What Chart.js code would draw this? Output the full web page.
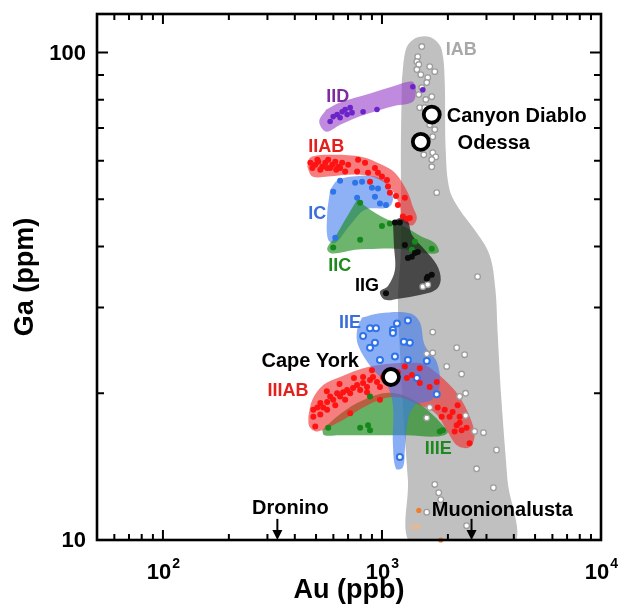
<!DOCTYPE html>
<html>
<head>
<meta charset="utf-8">
<title>Ga vs Au in iron meteorites</title>
<script src="https://cdn.jsdelivr.net/npm/chart.js@4.4.1/dist/chart.umd.min.js"></script>
<style>
  html, body { margin: 0; padding: 0; background: #fff; }
  #wrap { width: 622px; height: 608px; }
</style>
</head>
<body>
<div id="wrap"><canvas id="gaChart" width="622" height="608"></canvas></div>
<script>
// axis limits and ticks (Au in ppb, Ga in ppm)
const auRange = [50, 10000];
const gaRange = [10, 120];
const auTickValues = [100, 1000, 10000];
const auTickLabels = [['10', '2'], ['10', '3'], ['10', '4']];
const gaTickValues = [10, 100];
const gaTickLabels = ['10', '100'];

// group fields, outlines as [Au, Ga]
const fieldIAB = [[1233, 88.0], [1220, 63.2], [1220, 39.4], [1183, 31.1], [1207, 24.6], [1259, 17.6], [1313, 13.3], [1384, 9.76],
  [3937, 9.76], [3740, 13.3], [3510, 19.4], [3368, 27.0], [3297, 32.6], [3097, 38.5], [2648, 43.3], [2263, 47.6], [2036, 52.3],
  [1954, 63.2], [1933, 88.0], [1874, 101.4], [1742, 106.3], [1568, 108.0], [1384, 106.3], [1284, 101.4], [1233, 88.0]];
const fieldIID = [[557, 76.4], [644, 79.0], [882, 82.4], [1146, 85.5], [1369, 87.2], [1428, 83.9], [1383, 79.3], [1146, 77.8],
  [837, 74.6], [644, 71.1], [557, 68.8], [517, 72.2], [557, 76.4]];
const fieldIIAB = [[456, 58.3], [471, 60.9], [568, 61.7], [811, 61.1], [1000, 58.9], [1146, 56.7], [1313, 51.6], [1383, 48.3],
  [1443, 45.8], [1369, 44.2], [1233, 45.4], [1207, 48.3], [1110, 52.3], [929, 55.4], [754, 56.2], [568, 55.7], [481, 55.7], [456, 58.3]];
const fieldIC = [[580, 52.3], [631, 54.8], [811, 55.9], [959, 55.4], [1087, 53.1], [1122, 49.9], [1065, 48.1], [837, 47.6],
  [716, 44.3], [612, 40.7], [568, 41.3], [562, 46.5], [580, 52.3]];
const fieldIIC = [[770, 49.9], [929, 46.9], [1110, 45.0], [1272, 43.9], [1520, 41.9], [1742, 40.7], [1816, 39.0], [1618, 38.7],
  [1313, 39.4], [1146, 39.6], [959, 39.6], [754, 39.4], [593, 38.7], [562, 39.6], [612, 41.9], [679, 45.4], [770, 49.9]];
const fieldIIG = [[1122, 45.0], [1207, 45.8], [1313, 45.0], [1369, 42.3], [1568, 39.4], [1778, 36.7], [1855, 34.2], [1760, 32.6],
  [1488, 31.8], [1207, 31.3], [1032, 31.1], [979, 32.3], [1065, 33.2], [1146, 35.8], [1134, 40.3], [1122, 45.0]];
const fieldIIE = [[811, 28.6], [979, 29.2], [1340, 29.2], [1488, 28.0], [1568, 25.1], [1778, 23.2], [1834, 20.8], [1688, 19.4],
  [1413, 18.9], [1313, 17.6], [1272, 15.3], [1246, 14.1], [1159, 14.0], [1122, 15.7], [1122, 18.9], [1054, 20.8], [900, 22.5],
  [778, 25.1], [770, 27.0], [811, 28.6]];
const fieldIIIAB = [[461, 17.9], [481, 19.4], [539, 20.8], [644, 21.6], [770, 22.3], [929, 22.8], [1087, 23.0], [1340, 23.1],
  [1536, 23.0], [1778, 22.0], [2102, 20.5], [2335, 19.2], [2565, 17.5], [2647, 16.3], [2512, 15.5], [2215, 15.6], [1975, 16.8],
  [1778, 18.1], [1536, 18.8], [1207, 19.6], [1010, 19.5], [820, 18.7], [644, 17.5], [507, 16.7], [466, 17.1], [461, 17.9]];
const fieldIIIE = [[534, 16.8], [612, 17.8], [770, 19.1], [1010, 20.0], [1207, 19.9], [1443, 19.2], [1652, 18.3], [1894, 17.2],
  [1995, 16.6], [1778, 16.3], [1299, 16.4], [910, 16.4], [644, 16.4], [545, 16.4], [534, 16.8]];

// individual meteorites, [Au, Ga]
const pointsIAB = [[1520, 102.9], [1457, 98.1], [1443, 95.8], [1473, 94.5], [1443, 92.3], [1504, 90.1], [1618, 88.8], [1742, 91.4],
  [1652, 93.6], [1601, 86.8], [1520, 84.7], [1473, 82.0], [1585, 80.1], [1688, 81.2], [1488, 77.1], [1568, 77.1], [1652, 71.1],
  [1742, 69.5], [1705, 67.2], [1601, 65.6], [1552, 61.7], [1705, 62.3], [1760, 61.1], [1688, 60.3], [1688, 58.3], [1778, 51.6],
  [2732, 34.7], [1536, 33.1], [1618, 33.4], [1705, 26.7], [1601, 24.1], [1705, 24.2], [2193, 24.8], [2384, 24.0], [1975, 22.7],
  [2310, 21.9], [2409, 20.0], [2263, 19.7], [1652, 18.7], [1601, 17.8], [2409, 18.0], [2647, 16.7], [2908, 16.6], [3333, 15.3],
  [2703, 14.0], [3228, 12.8], [1742, 13.0], [1816, 12.5], [1855, 12.1], [1601, 11.4], [2434, 10.7]];
const pointsIID = [[580, 72.2], [599, 73.9], [624, 74.6], [658, 75.6], [679, 76.4], [693, 74.6], [644, 73.5], [730, 75.3],
  [716, 77.1], [820, 75.6], [949, 76.4], [1383, 85.1], [1536, 83.9]];
const pointsIIAB = [[496, 58.9], [512, 59.7], [534, 58.3], [551, 59.4], [568, 60.3], [593, 58.9], [612, 59.7], [631, 58.3],
  [658, 59.4], [679, 57.0], [701, 58.9], [778, 60.3], [837, 59.4], [770, 57.0], [864, 56.7], [929, 58.0], [959, 56.7],
  [882, 54.3], [1000, 55.7], [1054, 54.8], [1065, 53.1], [1087, 51.6], [1272, 50.4], [1246, 46.1], [1299, 45.6], [1340, 45.8],
  [481, 58.0], [523, 57.5], [580, 58.0], [471, 59.4], [507, 60.3], [562, 58.0], [644, 58.0], [618, 57.5], [1159, 50.8], [1182, 48.7]];
const pointsIC = [[644, 54.6], [599, 51.8], [754, 54.1], [811, 54.3], [900, 52.8], [959, 52.6], [929, 50.6], [770, 50.4],
  [979, 49.0], [1043, 48.7], [612, 41.7]];
const pointsIIC = [[795, 49.2], [795, 41.3], [1000, 44.1], [1087, 44.6], [1369, 39.4], [1688, 39.6], [599, 39.8], [1413, 40.9]];
const pointsIIG = [[1146, 44.8], [1207, 44.8], [1272, 40.3], [1369, 38.1], [1313, 37.9], [1413, 38.8], [1457, 39.0],
  [1618, 34.7], [1688, 35.0], [1601, 34.4], [1043, 32.1]];
const pointsIIE = [[882, 27.2], [939, 27.2], [1171, 27.8], [1313, 28.2], [1122, 27.0], [1122, 26.6], [820, 26.2], [929, 25.4],
  [882, 24.8], [1259, 25.5], [1340, 25.4], [979, 23.4], [1146, 23.8], [1313, 23.4], [1601, 23.3], [1443, 21.5], [1778, 19.9],
  [1207, 14.8]];
const pointsIIIAB = [[486, 18.5], [507, 18.7], [523, 19.1], [539, 18.7], [562, 19.2], [580, 19.7], [599, 19.4], [624, 20.0],
  [644, 19.7], [665, 20.1], [693, 20.3], [716, 20.0], [738, 20.5], [770, 20.8], [795, 20.3], [820, 21.0], [855, 20.6],
  [882, 21.3], [910, 21.6], [949, 21.1], [979, 20.6], [1010, 21.6], [900, 22.3], [820, 21.6], [496, 17.1], [486, 17.9],
  [562, 18.5], [716, 18.2], [855, 20.1], [979, 19.4], [679, 19.4], [612, 18.9], [523, 18.1], [1272, 22.7], [1488, 22.5],
  [1299, 21.5], [1488, 21.0], [1652, 20.6], [1778, 21.1], [1797, 18.7], [1934, 18.5], [2215, 18.9], [2036, 17.9], [2263, 17.9],
  [2193, 17.2], [2310, 16.8], [2147, 16.7], [2434, 17.0], [2512, 15.8], [2263, 17.4], [2102, 18.3], [1874, 17.9], [1182, 22.1],
  [1369, 21.8], [560, 20.2], [640, 20.9], [745, 21.5]];
const pointsIIIE = [[568, 17.0], [795, 17.0], [864, 17.2], [882, 16.8], [882, 19.7], [1834, 16.7], [1894, 16.8]];
const pointsIIF = [[1473, 11.5], [1855, 10.0]];

// named meteorites
const namedMeteorites = ['Canyon Diablo', 'Odessa', 'Cape York'];
const namedAu = [1688, 1504, 1099];
const namedGa = [74.6, 65.6, 21.6];
// meteorites below the Ga axis, marked with arrows
const belowNames = ['Dronino', 'Muonionalusta'];
const belowAu = [333, 2564];

const FONT = '"Liberation Sans", Arial, Helvetica, sans-serif';
const toXY = arr => arr.map(([x, y]) => ({ x, y }));

function field(data, color) {
  return {
    data: toXY(data), showLine: true, fill: 'shape', backgroundColor: color,
    borderWidth: 0, pointRadius: 0, tension: 0.35
  };
}
function dots(data, fillColor, edgeColor, radius, edge) {
  return {
    data: toXY(data), showLine: false, clip: false, pointRadius: radius,
    backgroundColor: fillColor, borderColor: edgeColor, borderWidth: edge
  };
}

const datasets = [
  field(fieldIAB, '#c0c0c0'),
  field(fieldIID, 'rgba(150, 60, 200, 0.6)'),
  field(fieldIC, 'rgba(60, 120, 240, 0.58)'),
  field(fieldIIC, 'rgba(30, 140, 30, 0.65)'),
  field(fieldIIAB, 'rgba(240, 40, 40, 0.6)'),
  field(fieldIIG, 'rgba(25, 25, 25, 0.72)'),
  field(fieldIIIE, 'rgba(30, 140, 30, 0.68)'),
  field(fieldIIIAB, 'rgba(240, 40, 40, 0.6)'),
  field(fieldIIE, 'rgba(60, 120, 240, 0.6)'),
  dots(pointsIAB, '#ffffff', '#9c9c9c', 2.8, 1.3),
  dots(pointsIID, '#6a24c8', '#6a24c8', 2.8, 0),
  dots(pointsIIAB, '#ff1212', '#ff1212', 3, 0),
  dots(pointsIC, '#2f73e8', '#2f73e8', 3, 0),
  dots(pointsIIC, '#16871a', '#16871a', 3, 0),
  dots(pointsIIG, '#0a0a0a', '#0a0a0a', 3, 0),
  dots(pointsIIE, '#ffffff', '#2f73e8', 3, 2),
  dots(pointsIIIAB, '#ff1212', '#ff1212', 3, 0),
  dots(pointsIIIE, '#16871a', '#16871a', 3, 0),
  dots(pointsIIF, '#f07d2a', '#f07d2a', 2.6, 0),
  {
    data: namedAu.map((x, i) => ({ x, y: namedGa[i] })), showLine: false, clip: false,
    pointRadius: 8, backgroundColor: '#ffffff', borderColor: '#000000', borderWidth: 3.8
  }
];
// paint in array order (later datasets on top)
datasets.forEach((d, i) => { d.order = -i; });

// where group and meteorite names are written, [Au, Ga]
const groupTags = [
  { text: 'IAB', at: [1954, 101.4], color: '#a8a8a8' },
  { text: 'IID', at: [557, 80.9], color: '#7d2ca0' },
  { text: 'IIAB', at: [461, 64.1], color: '#e3201c' },
  { text: 'IC', at: [461, 46.7], color: '#3a6fdc' },
  { text: 'IIC', at: [568, 36.5], color: '#1e8a1e' },
  { text: 'IIG', at: [754, 33.2], color: '#000000' },
  { text: 'IIE', at: [637, 27.9], color: '#3a6fdc' },
  { text: 'IIIAB', at: [300, 20.2], color: '#e3201c' },
  { text: 'IIIE', at: [1568, 15.4], color: '#1e8a1e' }
];
const nameTags = [
  { at: [1975, 73.9], align: 'left' },
  { at: [2215, 65.0], align: 'left' },
  { at: [282, 23.2], align: 'left' }
];
const belowTags = [
  { at: [382, 11.6], align: 'center' },
  { at: [1688, 11.5], align: 'left' }
];
const arrowTopGa = 11.05;

const annotate = {
  id: 'annotate',
  afterDatasetsDraw(chart) {
    const { ctx, chartArea: a, scales: { x, y } } = chart;
    ctx.save();
    ctx.textBaseline = 'middle';
    ctx.textAlign = 'left';
    ctx.font = `bold 18px ${FONT}`;
    groupTags.forEach(t => {
      ctx.fillStyle = t.color;
      ctx.fillText(t.text, x.getPixelForValue(t.at[0]), y.getPixelForValue(t.at[1]));
    });

    ctx.fillStyle = '#000';
    ctx.font = `bold 20px ${FONT}`;
    namedMeteorites.forEach((name, i) => {
      const t = nameTags[i];
      ctx.textAlign = t.align;
      ctx.fillText(name, x.getPixelForValue(t.at[0]), y.getPixelForValue(t.at[1]));
    });
    belowNames.forEach((name, i) => {
      const t = belowTags[i];
      ctx.textAlign = t.align;
      ctx.fillText(name, x.getPixelForValue(t.at[0]), y.getPixelForValue(t.at[1]));
    });

    // IIF tag, faint orange
    ctx.textAlign = 'left';
    ctx.font = `bold 9px ${FONT}`;
    ctx.fillStyle = '#f6b480';
    ctx.fillText('IIF', x.getPixelForValue(1355), y.getPixelForValue(10.6));

    // arrows down to the Au axis
    ctx.strokeStyle = '#000';
    ctx.fillStyle = '#000';
    belowAu.forEach(au => {
      const px = x.getPixelForValue(au);
      const top = y.getPixelForValue(arrowTopGa);
      const tip = a.bottom;
      ctx.lineWidth = 2;
      ctx.beginPath();
      ctx.moveTo(px, top);
      ctx.lineTo(px, tip - 8);
      ctx.stroke();
      ctx.beginPath();
      ctx.moveTo(px - 5, tip - 10);
      ctx.lineTo(px + 5, tip - 10);
      ctx.lineTo(px, tip);
      ctx.closePath();
      ctx.fill();
    });
    ctx.restore();
  },
  afterDraw(chart) {
    const { ctx, chartArea: a, scales: { x, y } } = chart;
    ctx.save();
    ctx.strokeStyle = '#000';
    ctx.fillStyle = '#000';

    // inward ticks on all four sides
    const minor = (lo, hi) => {
      const out = [];
      for (let d = 10; d < hi; d *= 10) {
        for (let m = 2; m <= 9; m++) {
          const v = m * d;
          if (v > lo && v < hi) out.push(v);
        }
      }
      return out;
    };
    ctx.lineWidth = 2;
    ctx.beginPath();
    const tickX = (v, len) => {
      const px = x.getPixelForValue(v);
      ctx.moveTo(px, a.bottom); ctx.lineTo(px, a.bottom - len);
      ctx.moveTo(px, a.top); ctx.lineTo(px, a.top + len);
    };
    const tickY = (v, len) => {
      const py = y.getPixelForValue(v);
      ctx.moveTo(a.left, py); ctx.lineTo(a.left + len, py);
      ctx.moveTo(a.right, py); ctx.lineTo(a.right - len, py);
    };
    minor(auRange[0], auRange[1]).forEach(v => tickX(v, 6));
    auTickValues.forEach(v => tickX(v, 10));
    minor(gaRange[0], gaRange[1]).forEach(v => tickY(v, 7));
    gaTickValues.forEach(v => tickY(v, 11));
    ctx.stroke();

    // frame
    ctx.lineWidth = 2.6;
    ctx.strokeRect(a.left, a.top, a.right - a.left, a.bottom - a.top);

    // Au tick labels with superscript exponents
    auTickValues.forEach((v, i) => {
      const [base, sup] = auTickLabels[i];
      const px = x.getPixelForValue(v);
      ctx.font = `bold 22px ${FONT}`;
      const wb = ctx.measureText(base).width;
      ctx.font = `bold 14px ${FONT}`;
      const ws = ctx.measureText(sup).width;
      const left = px - (wb + ws) / 2;
      ctx.textAlign = 'left';
      ctx.textBaseline = 'alphabetic';
      ctx.font = `bold 22px ${FONT}`;
      ctx.fillText(base, left, a.bottom + 39);
      ctx.font = `bold 14px ${FONT}`;
      ctx.fillText(sup, left + wb + 1, a.bottom + 28);
    });

    // Ga tick labels
    ctx.font = `bold 22px ${FONT}`;
    ctx.textAlign = 'right';
    ctx.textBaseline = 'middle';
    gaTickValues.forEach((v, i) => {
      ctx.fillText(gaTickLabels[i], a.left - 11, y.getPixelForValue(v) + 1);
    });

    // axis titles
    ctx.font = `bold 27px ${FONT}`;
    ctx.textAlign = 'center';
    ctx.textBaseline = 'alphabetic';
    ctx.fillText('Au (ppb)', (a.left + a.right) / 2, a.bottom + 58);
    ctx.save();
    ctx.translate(33, (a.top + a.bottom) / 2);
    ctx.rotate(-Math.PI / 2);
    ctx.fillText('Ga (ppm)', 0, 0);
    ctx.restore();
    ctx.restore();
  }
};

new Chart(document.getElementById('gaChart').getContext('2d'), {
  type: 'scatter',
  data: { datasets },
  options: {
    responsive: false,
    devicePixelRatio: 1,
    animation: false,
    events: [],
    layout: { padding: { left: 97, right: 21, top: 14, bottom: 68 } },
    plugins: { legend: { display: false }, tooltip: { enabled: false } },
    scales: {
      x: { type: 'logarithmic', min: auRange[0], max: auRange[1], display: false },
      y: { type: 'logarithmic', min: gaRange[0], max: gaRange[1], display: false }
    }
  },
  plugins: [annotate]
});
</script>
</body>
</html>
